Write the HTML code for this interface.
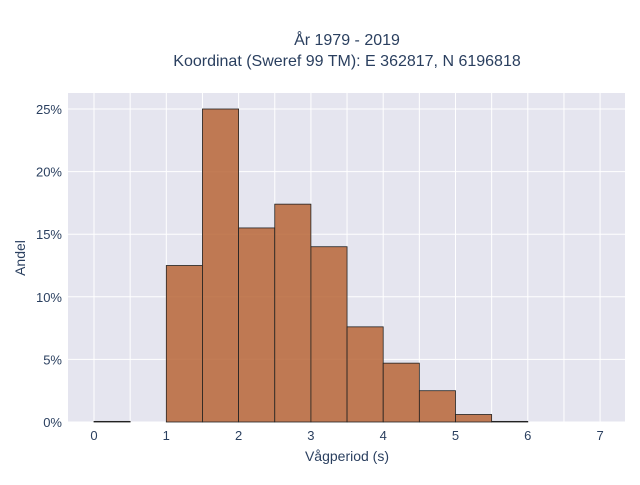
<!DOCTYPE html>
<html><head><meta charset="utf-8"><style>body{margin:0;background:#fff}svg text{font-family:"Liberation Sans",sans-serif;fill:#2a3f5f}</style></head>
<body>
<svg id="chart" width="640" height="480" xmlns="http://www.w3.org/2000/svg">
<rect x="68" y="93" width="557" height="329" fill="#e5e5ef"/>
<g id="grid"></g><g id="bars"></g><g id="ticks"></g>
<text x="347" y="45" text-anchor="middle" font-size="16" fill="#333">År 1979 - 2019</text>
<text x="347" y="66" text-anchor="middle" font-size="16" fill="#333">Koordinat (Sweref 99 TM): E 362817, N 6196818</text>
<text x="347" y="461" text-anchor="middle" font-size="14" fill="#333">Vågperiod (s)</text>
<text x="25" y="258" text-anchor="middle" font-size="14" fill="#333" transform="rotate(-90 25 258)">Andel</text>
</svg>
<script>
const binStarts=[0,0.5,1,1.5,2,2.5,3,3.5,4,4.5,5,5.5,6];
const shares=[0.05,0,12.5,25,15.5,17.4,14,7.6,4.7,2.5,0.6,0.05,0];
const xTicks=[0,1,2,3,4,5,6,7];
const yTicks=[0,5,10,15,20,25];
const binWidth=0.5;
const ns="http://www.w3.org/2000/svg";
const X=v=>94+v*72.3, Y=v=>422-v*12.52;
function mk(t,a,p){const e=document.createElementNS(ns,t);for(const k in a)e.setAttribute(k,a[k]);document.getElementById(p).appendChild(e);return e;}
for(let v=-0.5;v<=7.5;v+=0.5){const x=X(v);if(x<68||x>625)continue;const l=mk('line',{x1:x,x2:x,y1:93,y2:422,stroke:'#fff','stroke-width':1},'grid');}
yTicks.forEach(v=>{const l=mk('line',{x1:68,x2:625,y1:Y(v),y2:Y(v),stroke:'#fff','stroke-width':1},'grid');
const t=mk('text',{x:62,y:Y(v)+5,'text-anchor':'end','font-size':13,fill:'#333'},'ticks');t.textContent=v+'%';});
xTicks.forEach(v=>{const t=mk('text',{x:X(v),y:440,'text-anchor':'middle','font-size':13,fill:'#333'},'ticks');t.textContent=v;});
binStarts.forEach((s,i)=>{const h=shares[i];if(h<=0)return;const r=mk('rect',{x:X(s),y:Y(h),width:X(s+binWidth)-X(s),height:Y(0)-Y(h),fill:'#b86637','fill-opacity':0.85,stroke:'#222','stroke-width':0.8},'bars');});
</script>
</body></html>
